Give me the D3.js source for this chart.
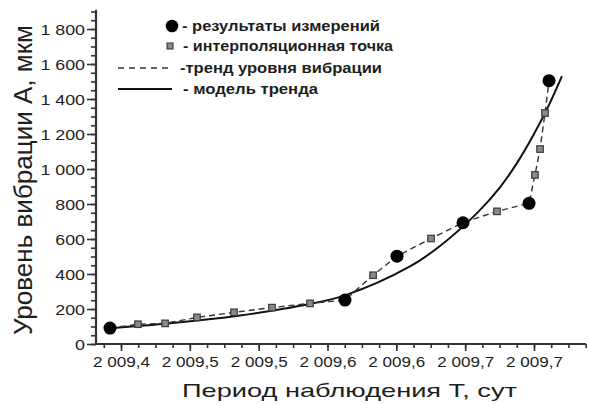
<!DOCTYPE html>
<html><head><meta charset="utf-8">
<script src="https://cdn.jsdelivr.net/npm/d3@7"></script>
<style>
body{margin:0;background:#fff}
svg{display:block}
text{font-family:"Liberation Sans",Arial,sans-serif;fill:#1e1e1e}
</style>
</head><body>
<svg id="c" width="589" height="405"></svg>
<script>
// ---- data ----
const measuredT = [2009.3920, 2009.5627, 2009.6005, 2009.6484, 2009.6964, 2009.7109];
const measuredA = [91, 251, 502, 693, 804, 1505];

const interpT = [2009.4123, 2009.4320, 2009.4552, 2009.4821, 2009.5097, 2009.5373,
                 2009.5831, 2009.6252, 2009.6731, 2009.7007, 2009.7044, 2009.7080];
const interpA = [113, 118, 152, 181, 208, 232, 393, 603, 758, 966, 1114, 1320];

const modelT = [2009.3920, 2009.4356, 2009.4864, 2009.5300, 2009.5627, 2009.6099, 2009.6317,
                2009.6586, 2009.6753, 2009.6877, 2009.6993, 2009.7102, 2009.7203];
const modelA = [90, 118, 163, 218, 278, 443, 560, 748, 895, 1035, 1190, 1355, 1531];

const xTickValues = [2009.40, 2009.45, 2009.50, 2009.55, 2009.60, 2009.65, 2009.70];
const xTickLabels = ["2 009,4", "2 009,5", "2 009,5", "2 009,6", "2 009,6", "2 009,7", "2 009,7"];
const yTickValues = [0, 200, 400, 600, 800, 1000, 1200, 1400, 1600, 1800];
const yTickLabels = ["0", "200", "400", "600", "800", "1 000", "1 200", "1 400", "1 600", "1 800"];

const legendLabels = ["- результаты измерений", "- интерполяционная точка", "-тренд уровня вибрации", "- модель тренда"];
const xTitle = "Период наблюдения Т, сут";
const yTitle = "Уровень вибрации А, мкм";

// ---- drawing ----
const svg = d3.select("#c");
const axisColor = "#333";

const x = d3.scaleLinear().domain([2009.40, 2009.70]).range([121, 534]);
const y = d3.scaleLinear().domain([0, 1800]).range([344, 29]);

const x0 = 96, yBase = y(0);
const xEnd = 586, yTop = y(1910);

function stretch(sel, factor) {
  sel.each(function() {
    const w = this.getComputedTextLength();
    d3.select(this).attr("textLength", w * factor).attr("lengthAdjust", "spacingAndGlyphs");
  });
}

// Y axis
const minorY = d3.range(0, 39).map(i => i * 50);
const gyMinor = svg.append("g").attr("transform", `translate(${x0},0)`)
  .call(d3.axisLeft(y).tickValues(minorY).tickSize(5).tickFormat(""));
const gy = svg.append("g").attr("transform", `translate(${x0},0)`)
  .call(d3.axisLeft(y).tickValues(yTickValues).tickSize(9).tickPadding(2)
        .tickFormat((d, i) => yTickLabels[i]));
[gyMinor, gy].forEach(g => {
  g.select(".domain").remove();
  g.selectAll("line").attr("stroke", axisColor).attr("stroke-width", 1.6);
});
gy.selectAll("text").attr("font-size", 15.5).attr("fill", "#1e1e1e").attr("dy", "0.36em")
  .call(stretch, 1.15);

// X axis
const minorX = d3.range(-1, 28).map(i => 2009.4 + i * 0.0125);
const gxMinor = svg.append("g").attr("transform", `translate(0,${yBase})`)
  .call(d3.axisBottom(x).tickValues(minorX).tickSize(4).tickFormat(""));
const gx = svg.append("g").attr("transform", `translate(0,${yBase})`)
  .call(d3.axisBottom(x).tickValues(xTickValues).tickSize(7).tickPadding(6)
        .tickFormat((d, i) => xTickLabels[i]));
[gxMinor, gx].forEach(g => {
  g.select(".domain").remove();
  g.selectAll("line").attr("stroke", axisColor).attr("stroke-width", 1.6);
});
gx.selectAll("text").attr("font-size", 14).attr("fill", "#1e1e1e")
  .attr("textLength", 57).attr("lengthAdjust", "spacingAndGlyphs");

// axis lines
svg.append("line").attr("x1", x0).attr("x2", x0).attr("y1", yBase + 1).attr("y2", yTop)
  .attr("stroke", axisColor).attr("stroke-width", 2.2);
svg.append("line").attr("x1", x0 - 1).attr("x2", xEnd).attr("y1", yBase).attr("y2", yBase)
  .attr("stroke", axisColor).attr("stroke-width", 2.2);

// model trend (solid)
const model = modelT.map((t, i) => [t, modelA[i]]);
svg.append("path").datum(model)
  .attr("d", d3.line().x(d => x(d[0])).y(d => y(d[1])).curve(d3.curveCatmullRom.alpha(0.5)))
  .attr("fill", "none").attr("stroke", "#111").attr("stroke-width", 2);

// dashed trend through all points
const all = measuredT.map((t, i) => [t, measuredA[i]])
  .concat(interpT.map((t, i) => [t, interpA[i]]))
  .sort((a, b) => a[0] - b[0]);
svg.append("path").datum(all)
  .attr("d", d3.line().x(d => x(d[0])).y(d => y(d[1])))
  .attr("fill", "none").attr("stroke", "#333").attr("stroke-width", 1.4)
  .attr("stroke-dasharray", "6,4");

// interpolation squares
const sq = 6.5;
svg.append("g").selectAll("rect").data(interpT).join("rect")
  .attr("x", (d) => x(d) - sq / 2).attr("y", (d, i) => y(interpA[i]) - sq / 2)
  .attr("width", sq).attr("height", sq)
  .attr("fill", "#8a8a8a").attr("stroke", "#3a3a3a").attr("stroke-width", 1.2);

// measurement circles
svg.append("g").selectAll("circle").data(measuredT).join("circle")
  .attr("cx", d => x(d)).attr("cy", (d, i) => y(measuredA[i])).attr("r", 6.5)
  .attr("fill", "#000");

// legend
const lg = svg.append("g");
const rowY = [26, 46, 68, 89];
lg.append("circle").attr("cx", 172).attr("cy", rowY[0]).attr("r", 6.3).attr("fill", "#000");
lg.append("rect").attr("x", 167).attr("y", rowY[1] - 3).attr("width", 6).attr("height", 6)
  .attr("fill", "#8a8a8a").attr("stroke", "#3a3a3a").attr("stroke-width", 1.1);
lg.append("line").attr("x1", 118).attr("x2", 172).attr("y1", rowY[2]).attr("y2", rowY[2])
  .attr("stroke", "#333").attr("stroke-width", 1.4).attr("stroke-dasharray", "6,5");
lg.append("line").attr("x1", 118).attr("x2", 172).attr("y1", rowY[3]).attr("y2", rowY[3])
  .attr("stroke", "#111").attr("stroke-width", 2);
const legX = [182, 183, 180, 183];
const legW = [198, 210, 202, 135];
lg.selectAll("text.leg").data(legendLabels).join("text").attr("class", "leg")
  .attr("x", (d, i) => legX[i]).attr("y", (d, i) => rowY[i] + 5)
  .attr("font-size", 15).attr("font-weight", "bold")
  .attr("textLength", (d, i) => legW[i]).attr("lengthAdjust", "spacingAndGlyphs")
  .text(d => d);

// axis titles
svg.append("text").attr("x", 349.5).attr("y", 397).attr("text-anchor", "middle")
  .attr("font-size", 19).attr("textLength", 335).attr("lengthAdjust", "spacingAndGlyphs")
  .text(xTitle);
svg.append("text").attr("transform", "translate(32,180) rotate(-90)").attr("text-anchor", "middle")
  .attr("font-size", 25).attr("textLength", 310).attr("lengthAdjust", "spacingAndGlyphs")
  .text(yTitle);
</script>
</body></html>
